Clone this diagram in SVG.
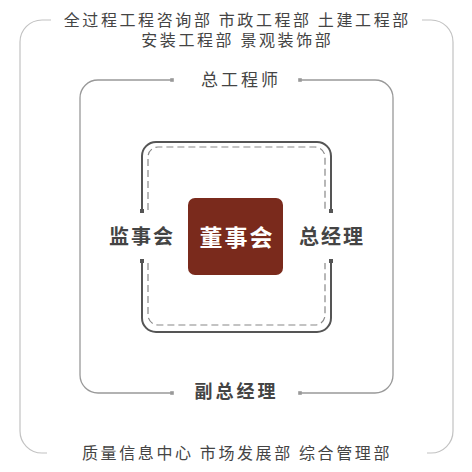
<svg xmlns="http://www.w3.org/2000/svg" width="472" height="472" viewBox="0 0 472 472">
  <style>
    .t { font-family: "Noto Sans CJK SC", "Noto Sans", sans-serif; text-anchor: middle; fill: #444; }
    .dept { font-size: 16px; letter-spacing: 2.6px; }
    .mid { font-size: 17px; letter-spacing: 3px; }
    .lbl { font-size: 20px; font-weight: bold; letter-spacing: 2px; }
    .outer { fill: none; stroke: #c2c2c2; stroke-width: 1.2; }
    .middle { fill: none; stroke: #999; stroke-width: 1.3; }
    .inner { fill: none; stroke: #555; stroke-width: 2; }
    .dash { fill: none; stroke: #888; stroke-width: 1.2; stroke-dasharray: 7 4; }
  </style>
  <rect width="472" height="472" fill="#fff"/>
  <g id="connectors">
    <path class="outer" d="M51,20 H42 A22,22 0 0 0 20,42 V431 A22,22 0 0 0 42,453 H47"/>
    <path class="outer" d="M422,20 H431 A22,22 0 0 1 453,42 V431 A22,22 0 0 1 431,453 H427"/>
    <path class="middle" d="M172,80 H98 A18,18 0 0 0 80,98 V375 A18,18 0 0 0 98,393 H172"/>
    <path class="middle" d="M300,80 H375 A18,18 0 0 1 393,98 V375 A18,18 0 0 1 375,393 H300"/>
    <g fill="#999">
      <rect x="170.2" y="78.2" width="3.6" height="3.6"/>
      <rect x="298.2" y="78.2" width="3.6" height="3.6"/>
      <rect x="170.2" y="391.2" width="3.6" height="3.6"/>
      <rect x="298.2" y="391.2" width="3.6" height="3.6"/>
    </g>
    <path class="inner" d="M142,211 V156 A14,14 0 0 1 156,142 H317 A14,14 0 0 1 331,156 V211"/>
    <path class="inner" d="M142,261 V318 A14,14 0 0 0 156,332 H317 A14,14 0 0 0 331,318 V261"/>
    <g fill="#555">
      <rect x="140" y="209" width="4" height="4"/>
      <rect x="329" y="209" width="4" height="4"/>
      <rect x="140" y="259" width="4" height="4"/>
      <rect x="329" y="259" width="4" height="4"/>
    </g>
    <path class="dash" d="M148,210 V157 A10,10 0 0 1 158,147 H315 A10,10 0 0 1 325,157 V210"/>
    <path class="dash" d="M148,263 V315 A10,10 0 0 0 158,325 H315 A10,10 0 0 0 325,315 V263"/>
  </g>
  <g id="node-depts-top">
    <text class="t dept"><tspan x="237.3" y="25.5">全过程工程咨询部 市政工程部 土建工程部</tspan><tspan x="237.3" y="45.5">安装工程部 景观装饰部</tspan></text>
  </g>
  <g id="node-chief-engineer">
    <text class="t mid" x="241" y="86">总工程师</text>
  </g>
  <g id="node-supervisors">
    <text class="t lbl" x="142" y="243.5">监事会</text>
  </g>
  <g id="node-board">
    <rect x="188" y="198" width="95" height="77" rx="7" fill="#7a2a1c"/>
    <text class="t lbl" x="237" y="245.5" style="font-size:23px; fill:#fff;">董事会</text>
  </g>
  <g id="node-gm">
    <text class="t lbl" x="332" y="243.5">总经理</text>
  </g>
  <g id="node-deputy-gm">
    <text class="t lbl" x="236.5" y="398" style="font-size:18px; letter-spacing:3px;">副总经理</text>
  </g>
  <g id="node-depts-bottom">
    <text class="t dept" x="237" y="459">质量信息中心 市场发展部 综合管理部</text>
  </g>
</svg>
